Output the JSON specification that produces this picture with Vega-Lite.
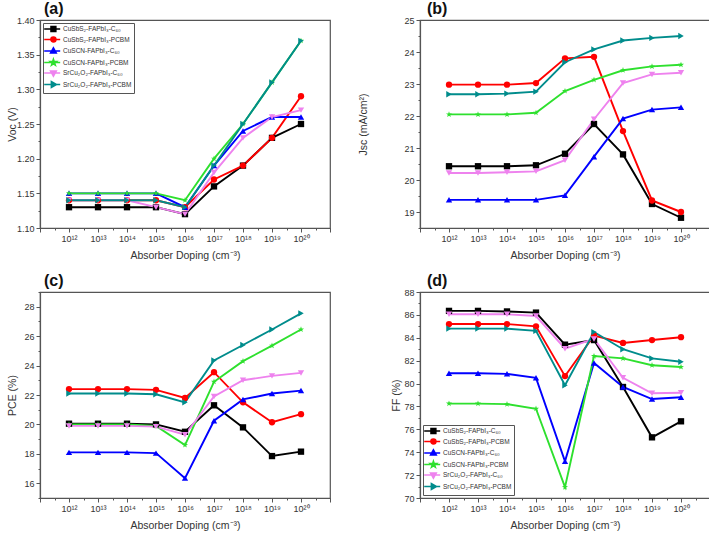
{
  "$schema": "https://vega.github.io/schema/vega-lite/v6.json",
  "padding": {"left": 6, "top": 0, "right": 0, "bottom": 0},
  "background": "white",
  "config": {
    "font": "Liberation Sans",
    "view": {"stroke": "#555", "strokeWidth": 1.2},
    "axis": {"grid": false, "domainColor": "#555", "domainWidth": 1.2, "tickColor": "#555", "tickWidth": 1, "labelFontSize": 9, "labelColor": "#333", "titleFontSize": 10.5, "titleFontWeight": "normal", "titleColor": "#333", "labelFont": "Liberation Sans", "titleFont": "Liberation Sans", "labelOverlap": false, "labelBound": false, "labelFlush": false, "labelPadding": 2},
    "title": {"fontSize": 16, "fontWeight": "bold", "anchor": "start", "frame": "group", "font": "Liberation Sans", "color": "#111", "offset": -1, "baseline": "bottom"}
  },
  "datasets": {
    "voc": [
      {"series":"CuSbS₂-FAPbI₃-C₆₀","exponent":12,"value":1.13},{"series":"CuSbS₂-FAPbI₃-C₆₀","exponent":13,"value":1.13},{"series":"CuSbS₂-FAPbI₃-C₆₀","exponent":14,"value":1.13},{"series":"CuSbS₂-FAPbI₃-C₆₀","exponent":15,"value":1.13},{"series":"CuSbS₂-FAPbI₃-C₆₀","exponent":16,"value":1.12},{"series":"CuSbS₂-FAPbI₃-C₆₀","exponent":17,"value":1.16},{"series":"CuSbS₂-FAPbI₃-C₆₀","exponent":18,"value":1.19},{"series":"CuSbS₂-FAPbI₃-C₆₀","exponent":19,"value":1.23},{"series":"CuSbS₂-FAPbI₃-C₆₀","exponent":20,"value":1.25},
      {"series":"CuSbS₂-FAPbI₃-PCBM","exponent":12,"value":1.14},{"series":"CuSbS₂-FAPbI₃-PCBM","exponent":13,"value":1.14},{"series":"CuSbS₂-FAPbI₃-PCBM","exponent":14,"value":1.14},{"series":"CuSbS₂-FAPbI₃-PCBM","exponent":15,"value":1.14},{"series":"CuSbS₂-FAPbI₃-PCBM","exponent":16,"value":1.13},{"series":"CuSbS₂-FAPbI₃-PCBM","exponent":17,"value":1.17},{"series":"CuSbS₂-FAPbI₃-PCBM","exponent":18,"value":1.19},{"series":"CuSbS₂-FAPbI₃-PCBM","exponent":19,"value":1.23},{"series":"CuSbS₂-FAPbI₃-PCBM","exponent":20,"value":1.29},
      {"series":"CuSCN-FAPbI₃-C₆₀","exponent":12,"value":1.15},{"series":"CuSCN-FAPbI₃-C₆₀","exponent":13,"value":1.15},{"series":"CuSCN-FAPbI₃-C₆₀","exponent":14,"value":1.15},{"series":"CuSCN-FAPbI₃-C₆₀","exponent":15,"value":1.15},{"series":"CuSCN-FAPbI₃-C₆₀","exponent":16,"value":1.13},{"series":"CuSCN-FAPbI₃-C₆₀","exponent":17,"value":1.19},{"series":"CuSCN-FAPbI₃-C₆₀","exponent":18,"value":1.24},{"series":"CuSCN-FAPbI₃-C₆₀","exponent":19,"value":1.26},{"series":"CuSCN-FAPbI₃-C₆₀","exponent":20,"value":1.26},
      {"series":"CuSCN-FAPbI₃-PCBM","exponent":12,"value":1.15},{"series":"CuSCN-FAPbI₃-PCBM","exponent":13,"value":1.15},{"series":"CuSCN-FAPbI₃-PCBM","exponent":14,"value":1.15},{"series":"CuSCN-FAPbI₃-PCBM","exponent":15,"value":1.15},{"series":"CuSCN-FAPbI₃-PCBM","exponent":16,"value":1.14},{"series":"CuSCN-FAPbI₃-PCBM","exponent":17,"value":1.20},{"series":"CuSCN-FAPbI₃-PCBM","exponent":18,"value":1.25},{"series":"CuSCN-FAPbI₃-PCBM","exponent":19,"value":1.31},{"series":"CuSCN-FAPbI₃-PCBM","exponent":20,"value":1.37},
      {"series":"SrCu₂O₂-FAPbI₃-C₆₀","exponent":12,"value":1.14},{"series":"SrCu₂O₂-FAPbI₃-C₆₀","exponent":13,"value":1.14},{"series":"SrCu₂O₂-FAPbI₃-C₆₀","exponent":14,"value":1.14},{"series":"SrCu₂O₂-FAPbI₃-C₆₀","exponent":15,"value":1.13},{"series":"SrCu₂O₂-FAPbI₃-C₆₀","exponent":16,"value":1.12},{"series":"SrCu₂O₂-FAPbI₃-C₆₀","exponent":17,"value":1.18},{"series":"SrCu₂O₂-FAPbI₃-C₆₀","exponent":18,"value":1.23},{"series":"SrCu₂O₂-FAPbI₃-C₆₀","exponent":19,"value":1.26},{"series":"SrCu₂O₂-FAPbI₃-C₆₀","exponent":20,"value":1.27},
      {"series":"SrCu₂O₂-FAPbI₃-PCBM","exponent":12,"value":1.14},{"series":"SrCu₂O₂-FAPbI₃-PCBM","exponent":13,"value":1.14},{"series":"SrCu₂O₂-FAPbI₃-PCBM","exponent":14,"value":1.14},{"series":"SrCu₂O₂-FAPbI₃-PCBM","exponent":15,"value":1.14},{"series":"SrCu₂O₂-FAPbI₃-PCBM","exponent":16,"value":1.13},{"series":"SrCu₂O₂-FAPbI₃-PCBM","exponent":17,"value":1.19},{"series":"SrCu₂O₂-FAPbI₃-PCBM","exponent":18,"value":1.25},{"series":"SrCu₂O₂-FAPbI₃-PCBM","exponent":19,"value":1.31},{"series":"SrCu₂O₂-FAPbI₃-PCBM","exponent":20,"value":1.37}
    ],
    "jsc": [
      {"series":"CuSbS₂-FAPbI₃-C₆₀","exponent":12,"value":20.43},{"series":"CuSbS₂-FAPbI₃-C₆₀","exponent":13,"value":20.43},{"series":"CuSbS₂-FAPbI₃-C₆₀","exponent":14,"value":20.43},{"series":"CuSbS₂-FAPbI₃-C₆₀","exponent":15,"value":20.46},{"series":"CuSbS₂-FAPbI₃-C₆₀","exponent":16,"value":20.82},{"series":"CuSbS₂-FAPbI₃-C₆₀","exponent":17,"value":21.75},{"series":"CuSbS₂-FAPbI₃-C₆₀","exponent":18,"value":20.8},{"series":"CuSbS₂-FAPbI₃-C₆₀","exponent":19,"value":19.25},{"series":"CuSbS₂-FAPbI₃-C₆₀","exponent":20,"value":18.82},
      {"series":"CuSbS₂-FAPbI₃-PCBM","exponent":12,"value":22.98},{"series":"CuSbS₂-FAPbI₃-PCBM","exponent":13,"value":22.98},{"series":"CuSbS₂-FAPbI₃-PCBM","exponent":14,"value":22.98},{"series":"CuSbS₂-FAPbI₃-PCBM","exponent":15,"value":23.03},{"series":"CuSbS₂-FAPbI₃-PCBM","exponent":16,"value":23.8},{"series":"CuSbS₂-FAPbI₃-PCBM","exponent":17,"value":23.85},{"series":"CuSbS₂-FAPbI₃-PCBM","exponent":18,"value":21.53},{"series":"CuSbS₂-FAPbI₃-PCBM","exponent":19,"value":19.36},{"series":"CuSbS₂-FAPbI₃-PCBM","exponent":20,"value":19.0},
      {"series":"CuSCN-FAPbI₃-C₆₀","exponent":12,"value":19.38},{"series":"CuSCN-FAPbI₃-C₆₀","exponent":13,"value":19.38},{"series":"CuSCN-FAPbI₃-C₆₀","exponent":14,"value":19.38},{"series":"CuSCN-FAPbI₃-C₆₀","exponent":15,"value":19.38},{"series":"CuSCN-FAPbI₃-C₆₀","exponent":16,"value":19.52},{"series":"CuSCN-FAPbI₃-C₆₀","exponent":17,"value":20.73},{"series":"CuSCN-FAPbI₃-C₆₀","exponent":18,"value":21.92},{"series":"CuSCN-FAPbI₃-C₆₀","exponent":19,"value":22.2},{"series":"CuSCN-FAPbI₃-C₆₀","exponent":20,"value":22.27},
      {"series":"CuSCN-FAPbI₃-PCBM","exponent":12,"value":22.05},{"series":"CuSCN-FAPbI₃-PCBM","exponent":13,"value":22.05},{"series":"CuSCN-FAPbI₃-PCBM","exponent":14,"value":22.05},{"series":"CuSCN-FAPbI₃-PCBM","exponent":15,"value":22.1},{"series":"CuSCN-FAPbI₃-PCBM","exponent":16,"value":22.78},{"series":"CuSCN-FAPbI₃-PCBM","exponent":17,"value":23.13},{"series":"CuSCN-FAPbI₃-PCBM","exponent":18,"value":23.43},{"series":"CuSCN-FAPbI₃-PCBM","exponent":19,"value":23.55},{"series":"CuSCN-FAPbI₃-PCBM","exponent":20,"value":23.6},
      {"series":"SrCu₂O₂-FAPbI₃-C₆₀","exponent":12,"value":20.22},{"series":"SrCu₂O₂-FAPbI₃-C₆₀","exponent":13,"value":20.22},{"series":"SrCu₂O₂-FAPbI₃-C₆₀","exponent":14,"value":20.24},{"series":"SrCu₂O₂-FAPbI₃-C₆₀","exponent":15,"value":20.27},{"series":"SrCu₂O₂-FAPbI₃-C₆₀","exponent":16,"value":20.62},{"series":"SrCu₂O₂-FAPbI₃-C₆₀","exponent":17,"value":21.9},{"series":"SrCu₂O₂-FAPbI₃-C₆₀","exponent":18,"value":23.03},{"series":"SrCu₂O₂-FAPbI₃-C₆₀","exponent":19,"value":23.3},{"series":"SrCu₂O₂-FAPbI₃-C₆₀","exponent":20,"value":23.35},
      {"series":"SrCu₂O₂-FAPbI₃-PCBM","exponent":12,"value":22.68},{"series":"SrCu₂O₂-FAPbI₃-PCBM","exponent":13,"value":22.68},{"series":"SrCu₂O₂-FAPbI₃-PCBM","exponent":14,"value":22.7},{"series":"SrCu₂O₂-FAPbI₃-PCBM","exponent":15,"value":22.76},{"series":"SrCu₂O₂-FAPbI₃-PCBM","exponent":16,"value":23.68},{"series":"SrCu₂O₂-FAPbI₃-PCBM","exponent":17,"value":24.08},{"series":"SrCu₂O₂-FAPbI₃-PCBM","exponent":18,"value":24.36},{"series":"SrCu₂O₂-FAPbI₃-PCBM","exponent":19,"value":24.44},{"series":"SrCu₂O₂-FAPbI₃-PCBM","exponent":20,"value":24.5}
    ],
    "pce": [
      {"series":"CuSbS₂-FAPbI₃-C₆₀","exponent":12,"value":20.05},{"series":"CuSbS₂-FAPbI₃-C₆₀","exponent":13,"value":20.05},{"series":"CuSbS₂-FAPbI₃-C₆₀","exponent":14,"value":20.05},{"series":"CuSbS₂-FAPbI₃-C₆₀","exponent":15,"value":20.0},{"series":"CuSbS₂-FAPbI₃-C₆₀","exponent":16,"value":19.5},{"series":"CuSbS₂-FAPbI₃-C₆₀","exponent":17,"value":21.3},{"series":"CuSbS₂-FAPbI₃-C₆₀","exponent":18,"value":19.8},{"series":"CuSbS₂-FAPbI₃-C₆₀","exponent":19,"value":17.85},{"series":"CuSbS₂-FAPbI₃-C₆₀","exponent":20,"value":18.15},
      {"series":"CuSbS₂-FAPbI₃-PCBM","exponent":12,"value":22.4},{"series":"CuSbS₂-FAPbI₃-PCBM","exponent":13,"value":22.4},{"series":"CuSbS₂-FAPbI₃-PCBM","exponent":14,"value":22.4},{"series":"CuSbS₂-FAPbI₃-PCBM","exponent":15,"value":22.35},{"series":"CuSbS₂-FAPbI₃-PCBM","exponent":16,"value":21.8},{"series":"CuSbS₂-FAPbI₃-PCBM","exponent":17,"value":23.55},{"series":"CuSbS₂-FAPbI₃-PCBM","exponent":18,"value":21.5},{"series":"CuSbS₂-FAPbI₃-PCBM","exponent":19,"value":20.15},{"series":"CuSbS₂-FAPbI₃-PCBM","exponent":20,"value":20.7},
      {"series":"CuSCN-FAPbI₃-C₆₀","exponent":12,"value":18.1},{"series":"CuSCN-FAPbI₃-C₆₀","exponent":13,"value":18.1},{"series":"CuSCN-FAPbI₃-C₆₀","exponent":14,"value":18.1},{"series":"CuSCN-FAPbI₃-C₆₀","exponent":15,"value":18.05},{"series":"CuSCN-FAPbI₃-C₆₀","exponent":16,"value":16.35},{"series":"CuSCN-FAPbI₃-C₆₀","exponent":17,"value":20.25},{"series":"CuSCN-FAPbI₃-C₆₀","exponent":18,"value":21.7},{"series":"CuSCN-FAPbI₃-C₆₀","exponent":19,"value":22.1},{"series":"CuSCN-FAPbI₃-C₆₀","exponent":20,"value":22.3},
      {"series":"CuSCN-FAPbI₃-PCBM","exponent":12,"value":20.0},{"series":"CuSCN-FAPbI₃-PCBM","exponent":13,"value":20.0},{"series":"CuSCN-FAPbI₃-PCBM","exponent":14,"value":20.0},{"series":"CuSCN-FAPbI₃-PCBM","exponent":15,"value":19.9},{"series":"CuSCN-FAPbI₃-PCBM","exponent":16,"value":18.6},{"series":"CuSCN-FAPbI₃-PCBM","exponent":17,"value":22.9},{"series":"CuSCN-FAPbI₃-PCBM","exponent":18,"value":24.3},{"series":"CuSCN-FAPbI₃-PCBM","exponent":19,"value":25.35},{"series":"CuSCN-FAPbI₃-PCBM","exponent":20,"value":26.45},
      {"series":"SrCu₂O₂-FAPbI₃-C₆₀","exponent":12,"value":19.9},{"series":"SrCu₂O₂-FAPbI₃-C₆₀","exponent":13,"value":19.9},{"series":"SrCu₂O₂-FAPbI₃-C₆₀","exponent":14,"value":19.9},{"series":"SrCu₂O₂-FAPbI₃-C₆₀","exponent":15,"value":19.85},{"series":"SrCu₂O₂-FAPbI₃-C₆₀","exponent":16,"value":19.3},{"series":"SrCu₂O₂-FAPbI₃-C₆₀","exponent":17,"value":21.9},{"series":"SrCu₂O₂-FAPbI₃-C₆₀","exponent":18,"value":23.0},{"series":"SrCu₂O₂-FAPbI₃-C₆₀","exponent":19,"value":23.3},{"series":"SrCu₂O₂-FAPbI₃-C₆₀","exponent":20,"value":23.5},
      {"series":"SrCu₂O₂-FAPbI₃-PCBM","exponent":12,"value":22.1},{"series":"SrCu₂O₂-FAPbI₃-PCBM","exponent":13,"value":22.1},{"series":"SrCu₂O₂-FAPbI₃-PCBM","exponent":14,"value":22.1},{"series":"SrCu₂O₂-FAPbI₃-PCBM","exponent":15,"value":22.05},{"series":"SrCu₂O₂-FAPbI₃-PCBM","exponent":16,"value":21.5},{"series":"SrCu₂O₂-FAPbI₃-PCBM","exponent":17,"value":24.35},{"series":"SrCu₂O₂-FAPbI₃-PCBM","exponent":18,"value":25.4},{"series":"SrCu₂O₂-FAPbI₃-PCBM","exponent":19,"value":26.45},{"series":"SrCu₂O₂-FAPbI₃-PCBM","exponent":20,"value":27.55}
    ],
    "ff": [
      {"series":"CuSbS₂-FAPbI₃-C₆₀","exponent":12,"value":86.35},{"series":"CuSbS₂-FAPbI₃-C₆₀","exponent":13,"value":86.35},{"series":"CuSbS₂-FAPbI₃-C₆₀","exponent":14,"value":86.3},{"series":"CuSbS₂-FAPbI₃-C₆₀","exponent":15,"value":86.2},{"series":"CuSbS₂-FAPbI₃-C₆₀","exponent":16,"value":83.4},{"series":"CuSbS₂-FAPbI₃-C₆₀","exponent":17,"value":83.8},{"series":"CuSbS₂-FAPbI₃-C₆₀","exponent":18,"value":79.7},{"series":"CuSbS₂-FAPbI₃-C₆₀","exponent":19,"value":75.3},{"series":"CuSbS₂-FAPbI₃-C₆₀","exponent":20,"value":76.7},
      {"series":"CuSbS₂-FAPbI₃-PCBM","exponent":12,"value":85.2},{"series":"CuSbS₂-FAPbI₃-PCBM","exponent":13,"value":85.2},{"series":"CuSbS₂-FAPbI₃-PCBM","exponent":14,"value":85.2},{"series":"CuSbS₂-FAPbI₃-PCBM","exponent":15,"value":85.0},{"series":"CuSbS₂-FAPbI₃-PCBM","exponent":16,"value":80.65},{"series":"CuSbS₂-FAPbI₃-PCBM","exponent":17,"value":84.2},{"series":"CuSbS₂-FAPbI₃-PCBM","exponent":18,"value":83.55},{"series":"CuSbS₂-FAPbI₃-PCBM","exponent":19,"value":83.8},{"series":"CuSbS₂-FAPbI₃-PCBM","exponent":20,"value":84.05},
      {"series":"CuSCN-FAPbI₃-C₆₀","exponent":12,"value":80.9},{"series":"CuSCN-FAPbI₃-C₆₀","exponent":13,"value":80.9},{"series":"CuSCN-FAPbI₃-C₆₀","exponent":14,"value":80.85},{"series":"CuSCN-FAPbI₃-C₆₀","exponent":15,"value":80.5},{"series":"CuSCN-FAPbI₃-C₆₀","exponent":16,"value":73.2},{"series":"CuSCN-FAPbI₃-C₆₀","exponent":17,"value":81.8},{"series":"CuSCN-FAPbI₃-C₆₀","exponent":18,"value":79.7},{"series":"CuSCN-FAPbI₃-C₆₀","exponent":19,"value":78.65},{"series":"CuSCN-FAPbI₃-C₆₀","exponent":20,"value":78.8},
      {"series":"CuSCN-FAPbI₃-PCBM","exponent":12,"value":78.25},{"series":"CuSCN-FAPbI₃-PCBM","exponent":13,"value":78.25},{"series":"CuSCN-FAPbI₃-PCBM","exponent":14,"value":78.2},{"series":"CuSCN-FAPbI₃-PCBM","exponent":15,"value":77.8},{"series":"CuSCN-FAPbI₃-PCBM","exponent":16,"value":70.95},{"series":"CuSCN-FAPbI₃-PCBM","exponent":17,"value":82.4},{"series":"CuSCN-FAPbI₃-PCBM","exponent":18,"value":82.2},{"series":"CuSCN-FAPbI₃-PCBM","exponent":19,"value":81.6},{"series":"CuSCN-FAPbI₃-PCBM","exponent":20,"value":81.45},
      {"series":"SrCu₂O₂-FAPbI₃-C₆₀","exponent":12,"value":86.05},{"series":"SrCu₂O₂-FAPbI₃-C₆₀","exponent":13,"value":86.05},{"series":"SrCu₂O₂-FAPbI₃-C₆₀","exponent":14,"value":86.05},{"series":"SrCu₂O₂-FAPbI₃-C₆₀","exponent":15,"value":85.9},{"series":"SrCu₂O₂-FAPbI₃-C₆₀","exponent":16,"value":83.05},{"series":"SrCu₂O₂-FAPbI₃-C₆₀","exponent":17,"value":83.9},{"series":"SrCu₂O₂-FAPbI₃-C₆₀","exponent":18,"value":80.5},{"series":"SrCu₂O₂-FAPbI₃-C₆₀","exponent":19,"value":79.15},{"series":"SrCu₂O₂-FAPbI₃-C₆₀","exponent":20,"value":79.2},
      {"series":"SrCu₂O₂-FAPbI₃-PCBM","exponent":12,"value":84.8},{"series":"SrCu₂O₂-FAPbI₃-PCBM","exponent":13,"value":84.8},{"series":"SrCu₂O₂-FAPbI₃-PCBM","exponent":14,"value":84.8},{"series":"SrCu₂O₂-FAPbI₃-PCBM","exponent":15,"value":84.6},{"series":"SrCu₂O₂-FAPbI₃-PCBM","exponent":16,"value":79.85},{"series":"SrCu₂O₂-FAPbI₃-PCBM","exponent":17,"value":84.5},{"series":"SrCu₂O₂-FAPbI₃-PCBM","exponent":18,"value":83.0},{"series":"SrCu₂O₂-FAPbI₃-PCBM","exponent":19,"value":82.2},{"series":"SrCu₂O₂-FAPbI₃-PCBM","exponent":20,"value":81.9}
    ]
  },
  "resolve": {"scale": {"color": "independent", "shape": "independent", "fill": "independent", "stroke": "independent"}, "legend": {"color": "independent", "shape": "independent", "fill": "independent", "stroke": "independent"}},
  "spacing": 10,
  "vconcat": [
    {
      "spacing": 25,
      "resolve": {"scale": {"color": "independent", "shape": "independent", "fill": "independent", "stroke": "independent"}, "legend": {"color": "independent", "shape": "independent", "fill": "independent", "stroke": "independent"}},
      "hconcat": [
        {
          "width": 290, "height": 208,
          "data": {"name": "voc"},
          "title": {"text": "(a)", "dx": 4},
          "resolve": {"scale": {"shape": "independent", "fill": "independent", "stroke": "independent"}, "legend": {"shape": "independent", "fill": "independent", "stroke": "independent"}},
          "encoding": {
            "x": {"field": "exponent", "type": "quantitative", "scale": {"domain": [11, 21], "nice": false, "zero": false},
              "axis": {"title": "Absorber Doping (cm⁻³)", "titlePadding": 7, "values": [11,11.5,12,12.5,13,13.5,14,14.5,15,15.5,16,16.5,17,17.5,18,18.5,19,19.5,20,20.5,21],
                "tickSize": {"expr": "datum.value % 1 == 0 ? 4 : 2"},
                "labelExpr": "datum.value % 1 == 0 && datum.value >= 12 && datum.value <= 20 ? ['10¹²','10¹³','10¹⁴','10¹⁵','10¹⁶','10¹⁷','10¹⁸','10¹⁹','10²⁰'][datum.value - 12] : ''"}},
            "y": {"field": "value", "type": "quantitative", "scale": {"domain": [1.1, 1.4], "nice": false, "zero": false},
              "axis": {"title": "Voc (V)", "titlePadding": 3, "minExtent": 20, "maxExtent": 20, "values": [1.1,1.125,1.15,1.175,1.2,1.225,1.25,1.275,1.3,1.325,1.35,1.375,1.4],
                "tickSize": {"expr": "round(datum.value*1000) % 50 == 0 ? 4 : 2"},
                "labelExpr": "round(datum.value*1000) % 50 == 0 ? format(datum.value, '.2f') : ''"}}
          },
          "layer": [
            {"mark": {"type": "line", "strokeWidth": 1.9},
             "encoding": {"color": {"field": "series", "type": "nominal", "legend": null,
               "scale": {"domain": ["CuSbS₂-FAPbI₃-C₆₀","CuSbS₂-FAPbI₃-PCBM","CuSCN-FAPbI₃-C₆₀","CuSCN-FAPbI₃-PCBM","SrCu₂O₂-FAPbI₃-C₆₀","SrCu₂O₂-FAPbI₃-PCBM"], "range": ["#000000","#ff0000","#0000ff","#2ee02e","#ee82ee","#008c8c"]}}}},
            {"mark": {"type": "point", "filled": true, "size": 40, "opacity": 1},
             "encoding": {
               "color": {"field": "series", "type": "nominal", "legend": null},
               "shape": {"field": "series", "type": "nominal", "legend": null,
               "scale": {"domain": ["CuSbS₂-FAPbI₃-C₆₀","CuSbS₂-FAPbI₃-PCBM","CuSCN-FAPbI₃-C₆₀","CuSCN-FAPbI₃-PCBM","SrCu₂O₂-FAPbI₃-C₆₀","SrCu₂O₂-FAPbI₃-PCBM"], "range": ["square","circle","triangle-up","M0,-1L0.235,-0.324L0.951,-0.309L0.38,0.124L0.588,0.809L0,0.4L-0.588,0.809L-0.38,0.124L-0.951,-0.309L-0.235,-0.324Z","triangle-down","triangle-right"]}}}},
            {"mark": {"type": "point", "filled": true, "size": 36, "opacity": 0},
             "encoding": {
               "shape": {"field": "series", "type": "nominal",
                 "scale": {"domain": ["CuSbS₂-FAPbI₃-C₆₀","CuSbS₂-FAPbI₃-PCBM","CuSCN-FAPbI₃-C₆₀","CuSCN-FAPbI₃-PCBM","SrCu₂O₂-FAPbI₃-C₆₀","SrCu₂O₂-FAPbI₃-PCBM"], "range": ["M-1.6,0H3.73M0.67,-0.8H2.27V0.8H0.67Z","M-1.6,0H3.73M2.3,0A0.83,0.83,0,1,1,0.64,0A0.83,0.83,0,1,1,2.3,0Z","M-1.6,0H3.73M1.47,-1L2.4,0.67H0.54Z","M-1.6,0H3.73M1.47,-1.07L1.721,-0.346L2.487,-0.33L1.876,0.132L2.099,0.865L1.47,0.427L0.841,0.865L1.064,0.132L0.453,-0.33L1.219,-0.346Z","M-1.6,0H3.73M1.47,1L2.4,-0.67H0.54Z","M-1.6,0H3.73M2.47,0L0.8,0.93V-0.93Z"]},
                 "legend": {"title": null, "orient": "top-left", "offset": 3, "padding": 2, "strokeColor": "#555", "fillColor": "white", "symbolSize": 36, "labelFontSize": 6.5, "labelColor": "#333", "labelOffset": 10, "rowPadding": -1.5, "symbolStrokeWidth": 1.6, "symbolOpacity": 1}},
               "fill": {"field": "series", "type": "nominal",
                 "scale": {"domain": ["CuSbS₂-FAPbI₃-C₆₀","CuSbS₂-FAPbI₃-PCBM","CuSCN-FAPbI₃-C₆₀","CuSCN-FAPbI₃-PCBM","SrCu₂O₂-FAPbI₃-C₆₀","SrCu₂O₂-FAPbI₃-PCBM"], "range": ["#000000","#ff0000","#0000ff","#2ee02e","#ee82ee","#008c8c"]},
                 "legend": {"title": null, "orient": "top-left", "offset": 3, "padding": 2, "strokeColor": "#555", "fillColor": "white", "symbolSize": 36, "labelFontSize": 6.5, "labelColor": "#333", "labelOffset": 10, "rowPadding": -1.5, "symbolStrokeWidth": 1.6, "symbolOpacity": 1}},
               "stroke": {"field": "series", "type": "nominal",
                 "scale": {"domain": ["CuSbS₂-FAPbI₃-C₆₀","CuSbS₂-FAPbI₃-PCBM","CuSCN-FAPbI₃-C₆₀","CuSCN-FAPbI₃-PCBM","SrCu₂O₂-FAPbI₃-C₆₀","SrCu₂O₂-FAPbI₃-PCBM"], "range": ["#000000","#ff0000","#0000ff","#2ee02e","#ee82ee","#008c8c"]},
                 "legend": {"title": null, "orient": "top-left", "offset": 3, "padding": 2, "strokeColor": "#555", "fillColor": "white", "symbolSize": 36, "labelFontSize": 6.5, "labelColor": "#333", "labelOffset": 10, "rowPadding": -1.5, "symbolStrokeWidth": 1.6, "symbolOpacity": 1}}
             }}
          ]
        },
        {
          "width": 290, "height": 208,
          "data": {"name": "jsc"},
          "title": {"text": "(b)", "dx": 7},
          "encoding": {
            "x": {"field": "exponent", "type": "quantitative", "scale": {"domain": [11, 21], "nice": false, "zero": false},
              "axis": {"title": "Absorber Doping (cm⁻³)", "titlePadding": 7, "values": [11,11.5,12,12.5,13,13.5,14,14.5,15,15.5,16,16.5,17,17.5,18,18.5,19,19.5,20,20.5,21],
                "tickSize": {"expr": "datum.value % 1 == 0 ? 4 : 2"},
                "labelExpr": "datum.value % 1 == 0 && datum.value >= 12 && datum.value <= 20 ? ['10¹²','10¹³','10¹⁴','10¹⁵','10¹⁶','10¹⁷','10¹⁸','10¹⁹','10²⁰'][datum.value - 12] : ''"}},
            "y": {"field": "value", "type": "quantitative", "scale": {"domain": [18.5, 25], "nice": false, "zero": false},
              "axis": {"title": "Jsc (mA/cm²)", "titlePadding": 32, "minExtent": 20, "maxExtent": 20, "values": [18.5,19,19.5,20,20.5,21,21.5,22,22.5,23,23.5,24,24.5,25],
                "tickSize": {"expr": "datum.value % 1 == 0 ? 4 : 2"},
                "labelExpr": "datum.value % 1 == 0 ? format(datum.value, 'd') : ''"}},
            "color": {"field": "series", "type": "nominal", "legend": null,
              "scale": {"domain": ["CuSbS₂-FAPbI₃-C₆₀","CuSbS₂-FAPbI₃-PCBM","CuSCN-FAPbI₃-C₆₀","CuSCN-FAPbI₃-PCBM","SrCu₂O₂-FAPbI₃-C₆₀","SrCu₂O₂-FAPbI₃-PCBM"], "range": ["#000000","#ff0000","#0000ff","#2ee02e","#ee82ee","#008c8c"]}}
          },
          "layer": [
            {"mark": {"type": "line", "strokeWidth": 1.9}},
            {"mark": {"type": "point", "filled": true, "size": 40, "opacity": 1},
             "encoding": {"shape": {"field": "series", "type": "nominal", "legend": null,
               "scale": {"domain": ["CuSbS₂-FAPbI₃-C₆₀","CuSbS₂-FAPbI₃-PCBM","CuSCN-FAPbI₃-C₆₀","CuSCN-FAPbI₃-PCBM","SrCu₂O₂-FAPbI₃-C₆₀","SrCu₂O₂-FAPbI₃-PCBM"], "range": ["square","circle","triangle-up","M0,-1L0.235,-0.324L0.951,-0.309L0.38,0.124L0.588,0.809L0,0.4L-0.588,0.809L-0.38,0.124L-0.951,-0.309L-0.235,-0.324Z","triangle-down","triangle-right"]}}}}
          ]
        }
      ]
    },
    {
      "spacing": 58,
      "resolve": {"scale": {"color": "independent", "shape": "independent", "fill": "independent", "stroke": "independent"}, "legend": {"color": "independent", "shape": "independent", "fill": "independent", "stroke": "independent"}},
      "hconcat": [
        {
          "width": 290, "height": 206,
          "data": {"name": "pce"},
          "title": {"text": "(c)", "dx": 4},
          "encoding": {
            "x": {"field": "exponent", "type": "quantitative", "scale": {"domain": [11, 21], "nice": false, "zero": false},
              "axis": {"title": "Absorber Doping (cm⁻³)", "titlePadding": 7, "values": [11,11.5,12,12.5,13,13.5,14,14.5,15,15.5,16,16.5,17,17.5,18,18.5,19,19.5,20,20.5,21],
                "tickSize": {"expr": "datum.value % 1 == 0 ? 4 : 2"},
                "labelExpr": "datum.value % 1 == 0 && datum.value >= 12 && datum.value <= 20 ? ['10¹²','10¹³','10¹⁴','10¹⁵','10¹⁶','10¹⁷','10¹⁸','10¹⁹','10²⁰'][datum.value - 12] : ''"}},
            "y": {"field": "value", "type": "quantitative", "scale": {"domain": [15, 29], "nice": false, "zero": false},
              "axis": {"title": "PCE (%)", "titlePadding": 3, "minExtent": 20, "maxExtent": 20, "values": [15,16,17,18,19,20,21,22,23,24,25,26,27,28,29],
                "tickSize": {"expr": "datum.value % 2 == 0 ? 4 : 2"},
                "labelExpr": "datum.value % 2 == 0 ? format(datum.value, 'd') : ''"}},
            "color": {"field": "series", "type": "nominal", "legend": null,
              "scale": {"domain": ["CuSbS₂-FAPbI₃-C₆₀","CuSbS₂-FAPbI₃-PCBM","CuSCN-FAPbI₃-C₆₀","CuSCN-FAPbI₃-PCBM","SrCu₂O₂-FAPbI₃-C₆₀","SrCu₂O₂-FAPbI₃-PCBM"], "range": ["#000000","#ff0000","#0000ff","#2ee02e","#ee82ee","#008c8c"]}}
          },
          "layer": [
            {"mark": {"type": "line", "strokeWidth": 1.9}},
            {"mark": {"type": "point", "filled": true, "size": 40, "opacity": 1},
             "encoding": {"shape": {"field": "series", "type": "nominal", "legend": null,
               "scale": {"domain": ["CuSbS₂-FAPbI₃-C₆₀","CuSbS₂-FAPbI₃-PCBM","CuSCN-FAPbI₃-C₆₀","CuSCN-FAPbI₃-PCBM","SrCu₂O₂-FAPbI₃-C₆₀","SrCu₂O₂-FAPbI₃-PCBM"], "range": ["square","circle","triangle-up","M0,-1L0.235,-0.324L0.951,-0.309L0.38,0.124L0.588,0.809L0,0.4L-0.588,0.809L-0.38,0.124L-0.951,-0.309L-0.235,-0.324Z","triangle-down","triangle-right"]}}}}
          ]
        },
        {
          "width": 290, "height": 206,
          "data": {"name": "ff"},
          "title": {"text": "(d)", "dx": 7},
          "resolve": {"scale": {"shape": "independent", "fill": "independent", "stroke": "independent"}, "legend": {"shape": "independent", "fill": "independent", "stroke": "independent"}},
          "encoding": {
            "x": {"field": "exponent", "type": "quantitative", "scale": {"domain": [11, 21], "nice": false, "zero": false},
              "axis": {"title": "Absorber Doping (cm⁻³)", "titlePadding": 7, "values": [11,11.5,12,12.5,13,13.5,14,14.5,15,15.5,16,16.5,17,17.5,18,18.5,19,19.5,20,20.5,21],
                "tickSize": {"expr": "datum.value % 1 == 0 ? 4 : 2"},
                "labelExpr": "datum.value % 1 == 0 && datum.value >= 12 && datum.value <= 20 ? ['10¹²','10¹³','10¹⁴','10¹⁵','10¹⁶','10¹⁷','10¹⁸','10¹⁹','10²⁰'][datum.value - 12] : ''"}},
            "y": {"field": "value", "type": "quantitative", "scale": {"domain": [70, 88], "nice": false, "zero": false},
              "axis": {"title": "FF (%)", "titlePadding": 3, "minExtent": 16, "maxExtent": 16, "values": [70,71,72,73,74,75,76,77,78,79,80,81,82,83,84,85,86,87,88],
                "tickSize": {"expr": "datum.value % 2 == 0 ? 4 : 2"},
                "labelExpr": "datum.value % 2 == 0 ? format(datum.value, 'd') : ''"}}
          },
          "layer": [
            {"mark": {"type": "line", "strokeWidth": 1.9},
             "encoding": {"color": {"field": "series", "type": "nominal", "legend": null,
               "scale": {"domain": ["CuSbS₂-FAPbI₃-C₆₀","CuSbS₂-FAPbI₃-PCBM","CuSCN-FAPbI₃-C₆₀","CuSCN-FAPbI₃-PCBM","SrCu₂O₂-FAPbI₃-C₆₀","SrCu₂O₂-FAPbI₃-PCBM"], "range": ["#000000","#ff0000","#0000ff","#2ee02e","#ee82ee","#008c8c"]}}}},
            {"mark": {"type": "point", "filled": true, "size": 40, "opacity": 1},
             "encoding": {
               "color": {"field": "series", "type": "nominal", "legend": null},
               "shape": {"field": "series", "type": "nominal", "legend": null,
               "scale": {"domain": ["CuSbS₂-FAPbI₃-C₆₀","CuSbS₂-FAPbI₃-PCBM","CuSCN-FAPbI₃-C₆₀","CuSCN-FAPbI₃-PCBM","SrCu₂O₂-FAPbI₃-C₆₀","SrCu₂O₂-FAPbI₃-PCBM"], "range": ["square","circle","triangle-up","M0,-1L0.235,-0.324L0.951,-0.309L0.38,0.124L0.588,0.809L0,0.4L-0.588,0.809L-0.38,0.124L-0.951,-0.309L-0.235,-0.324Z","triangle-down","triangle-right"]}}}},
            {"mark": {"type": "point", "filled": true, "size": 36, "opacity": 0},
             "encoding": {
               "shape": {"field": "series", "type": "nominal",
                 "scale": {"domain": ["CuSbS₂-FAPbI₃-C₆₀","CuSbS₂-FAPbI₃-PCBM","CuSCN-FAPbI₃-C₆₀","CuSCN-FAPbI₃-PCBM","SrCu₂O₂-FAPbI₃-C₆₀","SrCu₂O₂-FAPbI₃-PCBM"], "range": ["M-1.6,0H3.73M0.67,-0.8H2.27V0.8H0.67Z","M-1.6,0H3.73M2.3,0A0.83,0.83,0,1,1,0.64,0A0.83,0.83,0,1,1,2.3,0Z","M-1.6,0H3.73M1.47,-1L2.4,0.67H0.54Z","M-1.6,0H3.73M1.47,-1.07L1.721,-0.346L2.487,-0.33L1.876,0.132L2.099,0.865L1.47,0.427L0.841,0.865L1.064,0.132L0.453,-0.33L1.219,-0.346Z","M-1.6,0H3.73M1.47,1L2.4,-0.67H0.54Z","M-1.6,0H3.73M2.47,0L0.8,0.93V-0.93Z"]},
                 "legend": {"title": null, "orient": "bottom-left", "offset": 3, "padding": 2, "strokeColor": "#555", "fillColor": "white", "symbolSize": 36, "labelFontSize": 6.5, "labelColor": "#333", "labelOffset": 10, "rowPadding": -1.5, "symbolStrokeWidth": 1.6, "symbolOpacity": 1}},
               "fill": {"field": "series", "type": "nominal",
                 "scale": {"domain": ["CuSbS₂-FAPbI₃-C₆₀","CuSbS₂-FAPbI₃-PCBM","CuSCN-FAPbI₃-C₆₀","CuSCN-FAPbI₃-PCBM","SrCu₂O₂-FAPbI₃-C₆₀","SrCu₂O₂-FAPbI₃-PCBM"], "range": ["#000000","#ff0000","#0000ff","#2ee02e","#ee82ee","#008c8c"]},
                 "legend": {"title": null, "orient": "bottom-left", "offset": 3, "padding": 2, "strokeColor": "#555", "fillColor": "white", "symbolSize": 36, "labelFontSize": 6.5, "labelColor": "#333", "labelOffset": 10, "rowPadding": -1.5, "symbolStrokeWidth": 1.6, "symbolOpacity": 1}},
               "stroke": {"field": "series", "type": "nominal",
                 "scale": {"domain": ["CuSbS₂-FAPbI₃-C₆₀","CuSbS₂-FAPbI₃-PCBM","CuSCN-FAPbI₃-C₆₀","CuSCN-FAPbI₃-PCBM","SrCu₂O₂-FAPbI₃-C₆₀","SrCu₂O₂-FAPbI₃-PCBM"], "range": ["#000000","#ff0000","#0000ff","#2ee02e","#ee82ee","#008c8c"]},
                 "legend": {"title": null, "orient": "bottom-left", "offset": 3, "padding": 2, "strokeColor": "#555", "fillColor": "white", "symbolSize": 36, "labelFontSize": 6.5, "labelColor": "#333", "labelOffset": 10, "rowPadding": -1.5, "symbolStrokeWidth": 1.6, "symbolOpacity": 1}}
             }}
          ]
        }
      ]
    }
  ]
}
